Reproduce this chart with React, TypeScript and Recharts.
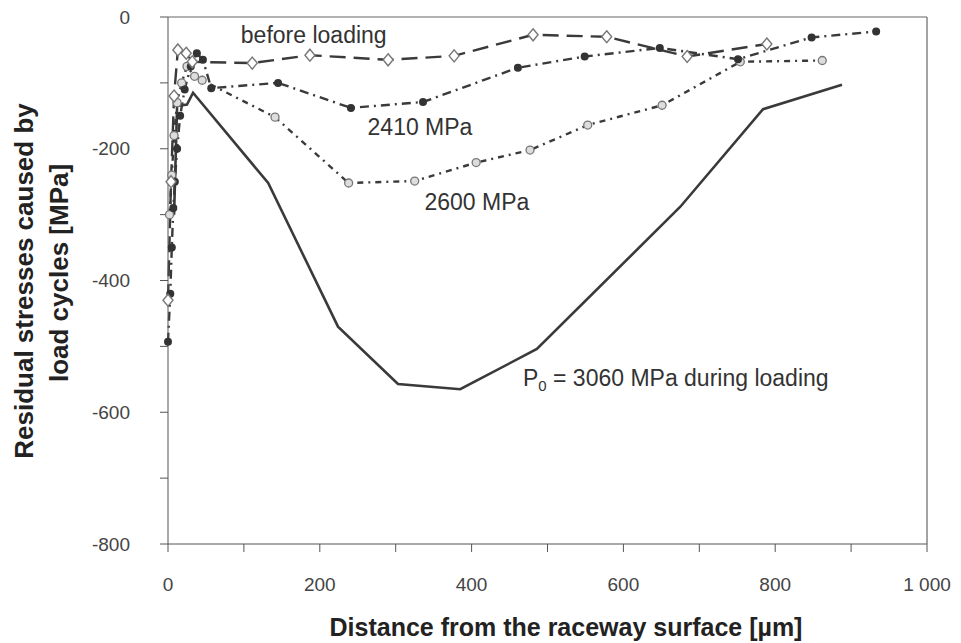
import React from 'react';
import { LineChart, Line, XAxis, YAxis, ReferenceLine, ReferenceDot } from 'recharts';

const FONT = '"Liberation Sans", Arial, sans-serif';
const INK = '#3a3a3a';

// depth below the raceway surface [µm] and residual stress [MPa] per curve
const depthBefore = [0, 4, 8, 13, 24, 32, 111, 187, 290, 377, 481, 578, 684, 789];
const stressBefore = [-430, -250, -120, -50, -55, -68, -70, -58, -65, -59, -27, -30, -60, -41];

const depth2410 = [0, 3, 5, 7, 9, 12, 16, 22, 30, 38, 46, 57, 145, 241, 336, 461, 549, 648, 751, 848, 933];
const stress2410 = [-493, -420, -350, -290, -250, -200, -150, -110, -75, -55, -65, -108, -100, -138, -129, -77, -60, -47, -64, -31, -22];

const depth2600 = [2, 5, 8, 12, 18, 25, 35, 45, 141, 238, 325, 406, 477, 553, 651, 754, 862];
const stress2600 = [-300, -240, -180, -130, -100, -75, -90, -96, -152, -252, -249, -221, -202, -164, -134, -68, -66];

const depthLoaded = [8, 12, 25, 33, 132, 224, 303, 385, 486, 675, 784, 888];
const stressLoaded = [-300, -135, -133, -115, -252, -470, -557, -565, -504, -288, -140, -103];

const xTicks = [0, 100, 200, 300, 400, 500, 600, 700, 800, 900, 1000];
const yTicks = [0, -100, -200, -300, -400, -500, -600, -700, -800];

const toPoints = (xs: number[], ys: number[]) => xs.map((x, i) => ({ x, y: ys[i] }));

const before = toPoints(depthBefore, stressBefore);
const p2410 = toPoints(depth2410, stress2410);
const p2600 = toPoints(depth2600, stress2600);
const loaded = toPoints(depthLoaded, stressLoaded);

const DiamondDot = (p: any) => (
  <path
    key={`dm-${p.index}`}
    d={`M${p.cx},${p.cy - 6}L${p.cx + 5},${p.cy}L${p.cx},${p.cy + 6}L${p.cx - 5},${p.cy}Z`}
    fill="#fff"
    stroke="#777"
    strokeWidth={1.4}
  />
);

const FilledDot = (p: any) => <circle key={`fd-${p.index}`} cx={p.cx} cy={p.cy} r={4} fill="#333" />;

const GreyDot = (p: any) => (
  <circle key={`gd-${p.index}`} cx={p.cx} cy={p.cy} r={4} fill="#ddd" stroke="#777" strokeWidth={1.3} />
);

const fmtX = (v: number) => (v % 200 !== 0 ? '' : v === 1000 ? '1 000' : String(v));
const fmtY = (v: number) => (v % 200 !== 0 ? '' : String(v));

const Note = ({ viewBox, text, sub }: any) => {
  const x = viewBox.x + (viewBox.width || 0) / 2;
  const y = viewBox.y + (viewBox.height || 0) / 2;
  return (
    <text x={x} y={y} dy="0.35em" textAnchor="middle" fontFamily={FONT} fontSize={23} fill="#333">
      {sub ? (
        <>
          <tspan>P</tspan>
          <tspan fontSize={15} dy="5">0</tspan>
          <tspan dy="-5">{'  = 3060 MPa during loading'}</tspan>
        </>
      ) : (
        text
      )}
    </text>
  );
};

const YTitle = () => (
  <g fontFamily={FONT} fontSize={26} fontWeight="bold" fill="#222" textAnchor="middle">
    <text x={25} y={273} transform="rotate(-90 25 273)">Residual stresses caused by</text>
    <text x={60} y={265} transform="rotate(-90 60 265)">load cycles [MPa]</text>
  </g>
);

const XTitle = () => (
  <text x={558} y={628} textAnchor="middle" fontFamily={FONT} fontSize={25} fontWeight="bold" fill="#222">
    Distance from the raceway surface [µm]
  </text>
);

export default function App() {
  const tickStyle = { fontFamily: FONT, fontSize: 19, fill: '#444' };
  return (
    <div style={{ width: 945, height: 635, background: '#fff' }}>
      <LineChart width={945} height={635} margin={{ top: 9, right: 26, left: 0, bottom: 0 }}>
        <XAxis
          type="number"
          dataKey="x"
          domain={[0, 1000]}
          ticks={xTicks}
          tickFormatter={fmtX}
          interval={0}
          height={99}
          tickSize={8}
          tickMargin={26}
          stroke="#555"
          tick={tickStyle}
          label={<XTitle />}
        />
        <YAxis
          type="number"
          domain={[-800, 0]}
          ticks={yTicks}
          tickFormatter={fmtY}
          interval={0}
          width={160}
          tickSize={8}
          tickMargin={30}
          stroke="#555"
          tick={tickStyle}
          label={<YTitle />}
        />
        <ReferenceLine y={0} stroke="#666" strokeWidth={1.2} />
        <ReferenceLine x={1000} stroke="#666" strokeWidth={1.2} />

        <Line
          data={loaded}
          dataKey="y"
          stroke={INK}
          strokeWidth={2.6}
          dot={false}
          isAnimationActive={false}
        />
        <Line
          data={p2600}
          dataKey="y"
          stroke={INK}
          strokeWidth={2.4}
          strokeDasharray="6 5 2 5"
          dot={GreyDot}
          isAnimationActive={false}
        />
        <Line
          data={p2410}
          dataKey="y"
          stroke={INK}
          strokeWidth={2.4}
          strokeDasharray="9 5 2 5"
          dot={FilledDot}
          isAnimationActive={false}
        />
        <Line
          data={before}
          dataKey="y"
          stroke={INK}
          strokeWidth={2.4}
          strokeDasharray="16 8"
          dot={DiamondDot}
          isAnimationActive={false}
        />

        <ReferenceDot x={192} y={-27} r={0} stroke="none" fill="none" label={<Note text="before loading" />} />
        <ReferenceDot x={332} y={-167} r={0} stroke="none" fill="none" label={<Note text="2410 MPa" />} />
        <ReferenceDot x={407} y={-281} r={0} stroke="none" fill="none" label={<Note text="2600 MPa" />} />
        <ReferenceDot x={669} y={-548} r={0} stroke="none" fill="none" label={<Note sub />} />
      </LineChart>
    </div>
  );
}
